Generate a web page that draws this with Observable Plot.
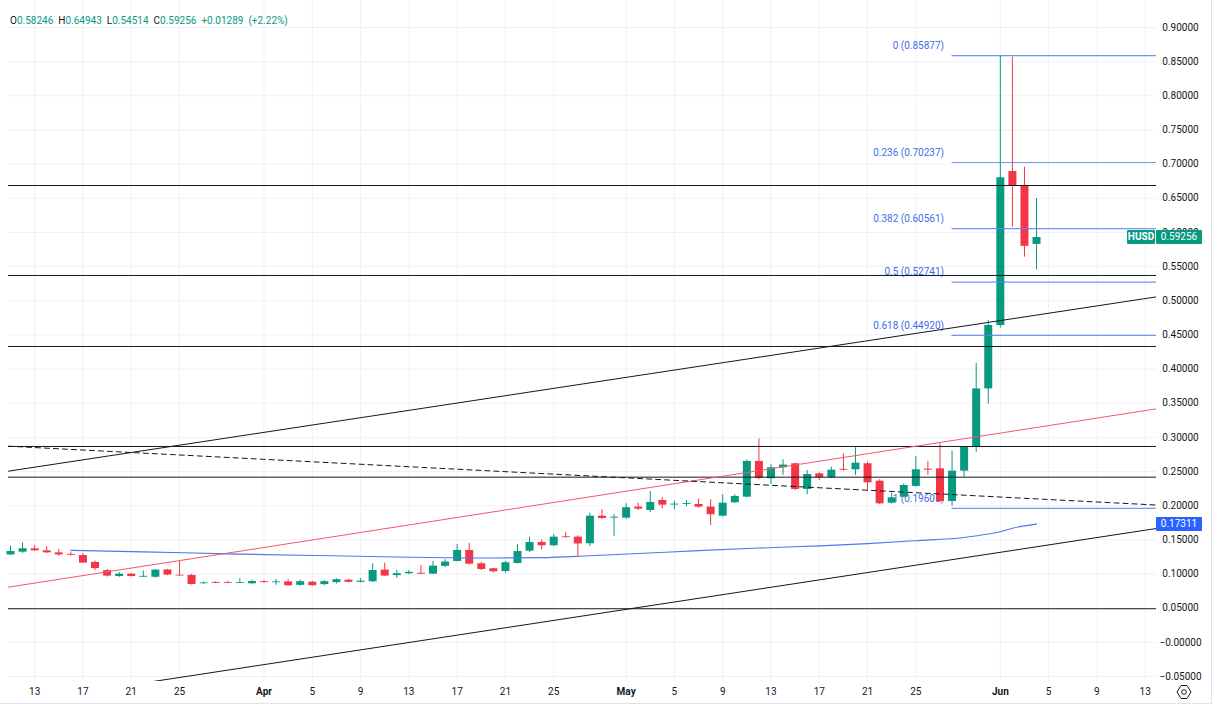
<!DOCTYPE html>
<html><head><meta charset="utf-8">
<script src="https://cdn.jsdelivr.net/npm/d3@7"></script>
<script src="https://cdn.jsdelivr.net/npm/@observablehq/plot@0.6"></script>
<style>
body{margin:0;background:#fff;font-family:Roboto,"Noto Sans",sans-serif;}
#wrap{position:relative;width:1222px;height:721px;overflow:hidden;}
#hdr{position:absolute;left:10px;top:14px;font-size:10px;line-height:13px;white-space:nowrap;color:#089981;}
#hdr .k{color:#131722;}
#hdr .g{margin-right:5px;}
.tag{position:absolute;height:14px;line-height:14px;font-size:10px;color:#fff;text-align:center;border-radius:1px;}
#border{position:absolute;left:0;top:0;width:1211px;height:703px;border-right:1px solid #e0e3eb;border-bottom:1px solid #e0e3eb;pointer-events:none;}
#gear{position:absolute;left:1176px;top:684px;}
</style></head><body>
<div id="wrap"><div id="chart"></div><div id="hdr"></div><div id="border"></div>
<svg id="gear" width="16" height="16" viewBox="0 0 16 16"><polygon points="5,1.5 11,1.5 15,8 11,14.5 5,14.5 1,8" fill="none" stroke="#131722" stroke-width="1"/><circle cx="8" cy="8" r="2.3" fill="none" stroke="#131722" stroke-width="1"/></svg>
</div>
<script>
// ---- candle data (daily) ----
const days = [
"2024-03-11","2024-03-12","2024-03-13","2024-03-14","2024-03-15","2024-03-16","2024-03-17","2024-03-18","2024-03-19","2024-03-20","2024-03-21","2024-03-22","2024-03-23","2024-03-24","2024-03-25","2024-03-26","2024-03-27","2024-03-28","2024-03-29","2024-03-30","2024-03-31",
"2024-04-01","2024-04-02","2024-04-03","2024-04-04","2024-04-05","2024-04-06","2024-04-07","2024-04-08","2024-04-09","2024-04-10","2024-04-11","2024-04-12","2024-04-13","2024-04-14","2024-04-15","2024-04-16","2024-04-17","2024-04-18","2024-04-19","2024-04-20","2024-04-21","2024-04-22","2024-04-23","2024-04-24","2024-04-25","2024-04-26","2024-04-27","2024-04-28","2024-04-29","2024-04-30",
"2024-05-01","2024-05-02","2024-05-03","2024-05-04","2024-05-05","2024-05-06","2024-05-07","2024-05-08","2024-05-09","2024-05-10","2024-05-11","2024-05-12","2024-05-13","2024-05-14","2024-05-15","2024-05-16","2024-05-17","2024-05-18","2024-05-19","2024-05-20","2024-05-21","2024-05-22","2024-05-23","2024-05-24","2024-05-25","2024-05-26","2024-05-27","2024-05-28","2024-05-29","2024-05-30","2024-05-31",
"2024-06-01","2024-06-02","2024-06-03","2024-06-04"];
const opens = [
.128,.132,.137,.134,.131,.1288,.127,.117,.105,.0964,.0998,.0953,.0953,.106,.0983,.098,.0858,.0876,.0876,.0862,.0857,
.0888,.0872,.0885,.0835,.0880,.0845,.0874,.091,.0878,.0887,.1057,.0977,.1005,.1012,.0998,.1112,.1184,.1345,.115,.1077,.1037,.1155,.1335,.1462,.1414,.1545,.1540,.1443,.1847,.1818,
.1818,.198,.193,.2077,.2010,.2018,.2018,.198,.1847,.2043,.2125,.2648,.2395,.2555,.2614,.2238,.2467,.2409,.2533,.2526,.2614,.2359,.2037,.2125,.2282,.2535,.254,.2062,.2506,.2857,.371,
.4638,.6892,.6687,.58246];
const highs = [
.141,.1457,.142,.140,.136,.132,.130,.119,.1067,.1023,.101,.1048,.1062,.107,.1183,.0993,.0885,.089,.0895,.093,.091,
.0905,.092,.0917,.091,.0895,.0905,.093,.0925,.093,.115,.116,.105,.105,.1125,.1184,.121,.1433,.145,.117,.1085,.1185,.1433,.154,.150,.1575,.161,.156,.189,.194,.187,
.2028,.2037,.221,.2117,.2066,.2077,.2096,.2087,.216,.216,.267,.298,.260,.2672,.262,.2516,.2482,.2564,.276,.2848,.264,.238,.2184,.232,.272,.265,.2907,.2799,.286,.408,.471,
.85877,.8565,.6955,.64943];
const lows = [
.127,.130,.133,.130,.126,.1265,.1155,.105,.0955,.095,.0955,.0950,.094,.0975,.0970,.084,.085,.086,.086,.0860,.0850,
.0865,.0835,.082,.082,.082,.083,.0855,.087,.087,.0875,.0965,.094,.099,.099,.0995,.1095,.1175,.113,.105,.1015,.101,.1145,.1315,.1355,.140,.152,.126,.140,.180,.155,
.180,.193,.190,.1955,.194,.1985,.1965,.171,.183,.2033,.2115,.238,.231,.2443,.2223,.216,.237,.2395,.2505,.2443,.2213,.2015,.2025,.2116,.227,.2443,.2045,.1993,.2418,.278,.349,
.4600,.6077,.5638,.54514];
const closes = [
.133,.137,.134,.131,.128,.1275,.116,.108,.097,.0998,.0964,.0966,.1058,.0985,.0971,.0847,.0870,.0864,.0864,.0874,.089,
.0874,.0884,.0828,.0888,.083,.0888,.0917,.0878,.0895,.1052,.0970,.1005,.1025,.0998,.1115,.1175,.1345,.1145,.1067,.1033,.1165,.1329,.1462,.1414,.154,.1533,.1440,.1847,.1813,.1832,
.197,.195,.2048,.2008,.2024,.2031,.1979,.1868,.2037,.2136,.2648,.2399,.2555,.2595,.2238,.2457,.2409,.2520,.2520,.2623,.2335,.2028,.2116,.2296,.2526,.2520,.2062,.2506,.2857,.371,.4638,
.6800,.6677,.57967,.59256];

// ---- blue moving average ----
const maDays = ["2024-03-16","2024-03-22","2024-03-29","2024-04-05","2024-04-12","2024-04-20","2024-04-24","2024-04-28","2024-05-02","2024-05-07","2024-05-12","2024-05-17","2024-05-21","2024-05-25","2024-05-29","2024-05-31","2024-06-01","2024-06-02","2024-06-03","2024-06-04"];
const maValues = [0.1347,0.1325,0.1295,0.1272,0.1250,0.1234,0.1240,0.1268,0.1300,0.1342,0.1380,0.1412,0.1445,0.1488,0.1535,0.1585,0.1620,0.1670,0.1705,0.1731];

// ---- horizontal support / resistance levels ----
const hLevels = [0.6687, 0.5370, 0.4331, 0.2867, 0.2418, 0.0492];

// ---- trend lines: [start, end] at the chart edges ----
const edgeStart = "2024-03-10T20:00Z", edgeEnd = "2024-06-13T22:30Z";
const upperTrend = [0.2506, 0.5057];
const lowerTrend = [-0.0896, 0.1667];
const redTrend = [0.0808, 0.3418];
const dashedTrend = [0.2871, 0.2010];

// ---- Fibonacci retracement ----
const fibStart = "2024-05-28";
const fibRatios = ["0", "0.236", "0.382", "0.5", "0.618", "1"];
const fibPrices = [0.85877, 0.70237, 0.60561, 0.52741, 0.44920, 0.19605];

// ---- axes ----
const yTicks = [-0.05,0,0.05,0.10,0.15,0.20,0.25,0.30,0.35,0.40,0.45,0.50,0.55,0.60,0.65,0.70,0.75,0.80,0.85,0.90];
const yTickLabels = ["\u22120.05000","\u22120.00000","0.05000","0.10000","0.15000","0.20000","0.25000","0.30000","0.35000","0.40000","0.45000","0.50000","0.55000","0.60000","0.65000","0.70000","0.75000","0.80000","0.85000","0.90000"];
const xTickDays = ["2024-03-13","2024-03-17","2024-03-21","2024-03-25","2024-04-01","2024-04-05","2024-04-09","2024-04-13","2024-04-17","2024-04-21","2024-04-25","2024-05-01","2024-05-05","2024-05-09","2024-05-13","2024-05-17","2024-05-21","2024-05-25","2024-06-01","2024-06-05","2024-06-09","2024-06-13"];
const xTickLabels = ["13","17","21","25","Apr","5","9","13","17","21","25","May","5","9","13","17","21","25","Jun","5","9","13"];

// ---- header / last values ----
const ticker = "HUSD";
const last = {o: "0.58246", h: "0.64943", l: "0.54514", c: "0.59256", chg: "+0.01289", pct: "(+2.22%)"};
const lastPrice = 0.59256;
const maLast = 0.17311;

// ---- build ----
const GREEN = "#089981", RED = "#f23645", BLUE = "#2962ff";
const candles = days.map((d, i) => ({date: new Date(d), open: opens[i], high: highs[i], low: lows[i], close: closes[i]}));
const colorOf = d => d.close >= d.open ? GREEN : RED;
const ma = maDays.map((d, i) => ({date: new Date(d), v: maValues[i]}));
const seg = (vals) => [{date: new Date(edgeStart), v: vals[0]}, {date: new Date(edgeEnd), v: vals[1]}];
const fib = fibPrices.map((p, i) => ({start: new Date(fibStart), end: new Date(edgeEnd), price: p, label: `${fibRatios[i]} (${p.toFixed(5)})`}));
const yLab = new Map(yTicks.map((t, i) => [t, yTickLabels[i]]));
const xTicks = xTickDays.map(d => new Date(d));
const xLab = new Map(xTickDays.map((d, i) => [+new Date(d), xTickLabels[i]]));
const monthTicks = xTicks.filter(d => d.getUTCDate() === 1);
const dayTicks = xTicks.filter(d => d.getUTCDate() !== 1);

const plot = Plot.plot({
  width: 1222, height: 721,
  marginLeft: 8, marginRight: 66, marginTop: 0, marginBottom: 40,
  style: {fontFamily: "Roboto, 'Noto Sans', sans-serif", fontSize: "10px", color: "#131722", background: "white", overflow: "visible"},
  x: {type: "utc", domain: [new Date(edgeStart), new Date(edgeEnd)]},
  y: {domain: [-0.0573, 0.9395]},
  color: {type: "identity"},
  marks: [
    Plot.gridX(xTicks, {stroke: "#eef1f7", strokeOpacity: 1}),
    Plot.gridY(yTicks, {stroke: "#eef1f7", strokeOpacity: 1}),
    Plot.axisY(yTicks, {anchor: "right", tickSize: 0, tickPadding: 24, textAnchor: "middle", tickFormat: d => yLab.get(d), fill: "#131722"}),
    Plot.axisX(dayTicks, {anchor: "bottom", tickSize: 0, tickPadding: 6, tickFormat: d => xLab.get(+d), fill: "#131722"}),
    Plot.axisX(monthTicks, {anchor: "bottom", tickSize: 0, tickPadding: 6, tickFormat: d => xLab.get(+d), fill: "#131722", fontWeight: "bold"}),
    // fib labels (behind candles)
    Plot.text(fib, {x: "start", y: "price", text: "label", textAnchor: "end", dx: -8, dy: -10, fill: "#3d6fe6", fontSize: 10}),
    // candles
    Plot.ruleX(candles, {x: "date", y1: "low", y2: "high", stroke: colorOf, strokeWidth: 1}),
    Plot.ruleX(candles, {x: "date", y1: "open", y2: "close", stroke: colorOf, strokeWidth: 8}),
    // fib lines
    Plot.ruleY(fib, {y: "price", x1: "start", x2: "end", stroke: "#5b85ea", strokeWidth: 1.2, strokeOpacity: 0.85}),
    // moving average
    Plot.line(ma, {x: "date", y: "v", stroke: "#4f78e8", strokeWidth: 1.1, curve: "monotone-x"}),
    // horizontal levels
    Plot.ruleY(hLevels, {stroke: "#131722", strokeWidth: 1}),
    // trend lines
    Plot.line(seg(upperTrend), {x: "date", y: "v", stroke: "#131722", strokeWidth: 1, clip: true}),
    Plot.line(seg(lowerTrend), {x: "date", y: "v", stroke: "#131722", strokeWidth: 1, clip: true}),
    Plot.line(seg(redTrend), {x: "date", y: "v", stroke: "#ef5a69", strokeWidth: 1, clip: true}),
    Plot.line(seg(dashedTrend), {x: "date", y: "v", stroke: "#131722", strokeWidth: 1, strokeDasharray: "5,4", clip: true})
  ]
});
document.getElementById("chart").appendChild(plot);

// header
document.getElementById("hdr").innerHTML =
  `<span class="g"><span class="k">O</span>${last.o}</span>` +
  `<span class="g"><span class="k">H</span>${last.h}</span>` +
  `<span class="g"><span class="k">L</span>${last.l}</span>` +
  `<span class="g"><span class="k">C</span>${last.c}</span>` +
  `<span class="g">${last.chg}</span><span>${last.pct}</span>`;

// price tags on the scale, positioned with the plot's y scale
const ys = plot.scale("y");
const wrap = document.getElementById("wrap");
function tag(text, left, width, yVal, bg, bold) {
  const el = document.createElement("div");
  el.className = "tag";
  el.textContent = text;
  el.style.left = left + "px";
  el.style.width = width + "px";
  el.style.top = (ys.apply(yVal) - 7) + "px";
  el.style.background = bg;
  if (bold) el.style.fontWeight = "bold";
  wrap.appendChild(el);
}
tag(ticker, 1127, 28, lastPrice, GREEN, true);
tag(lastPrice.toFixed(5), 1156, 46, lastPrice, GREEN, false);
tag(maLast.toFixed(5), 1156, 46, maLast, BLUE, false);
</script>
</body></html>
